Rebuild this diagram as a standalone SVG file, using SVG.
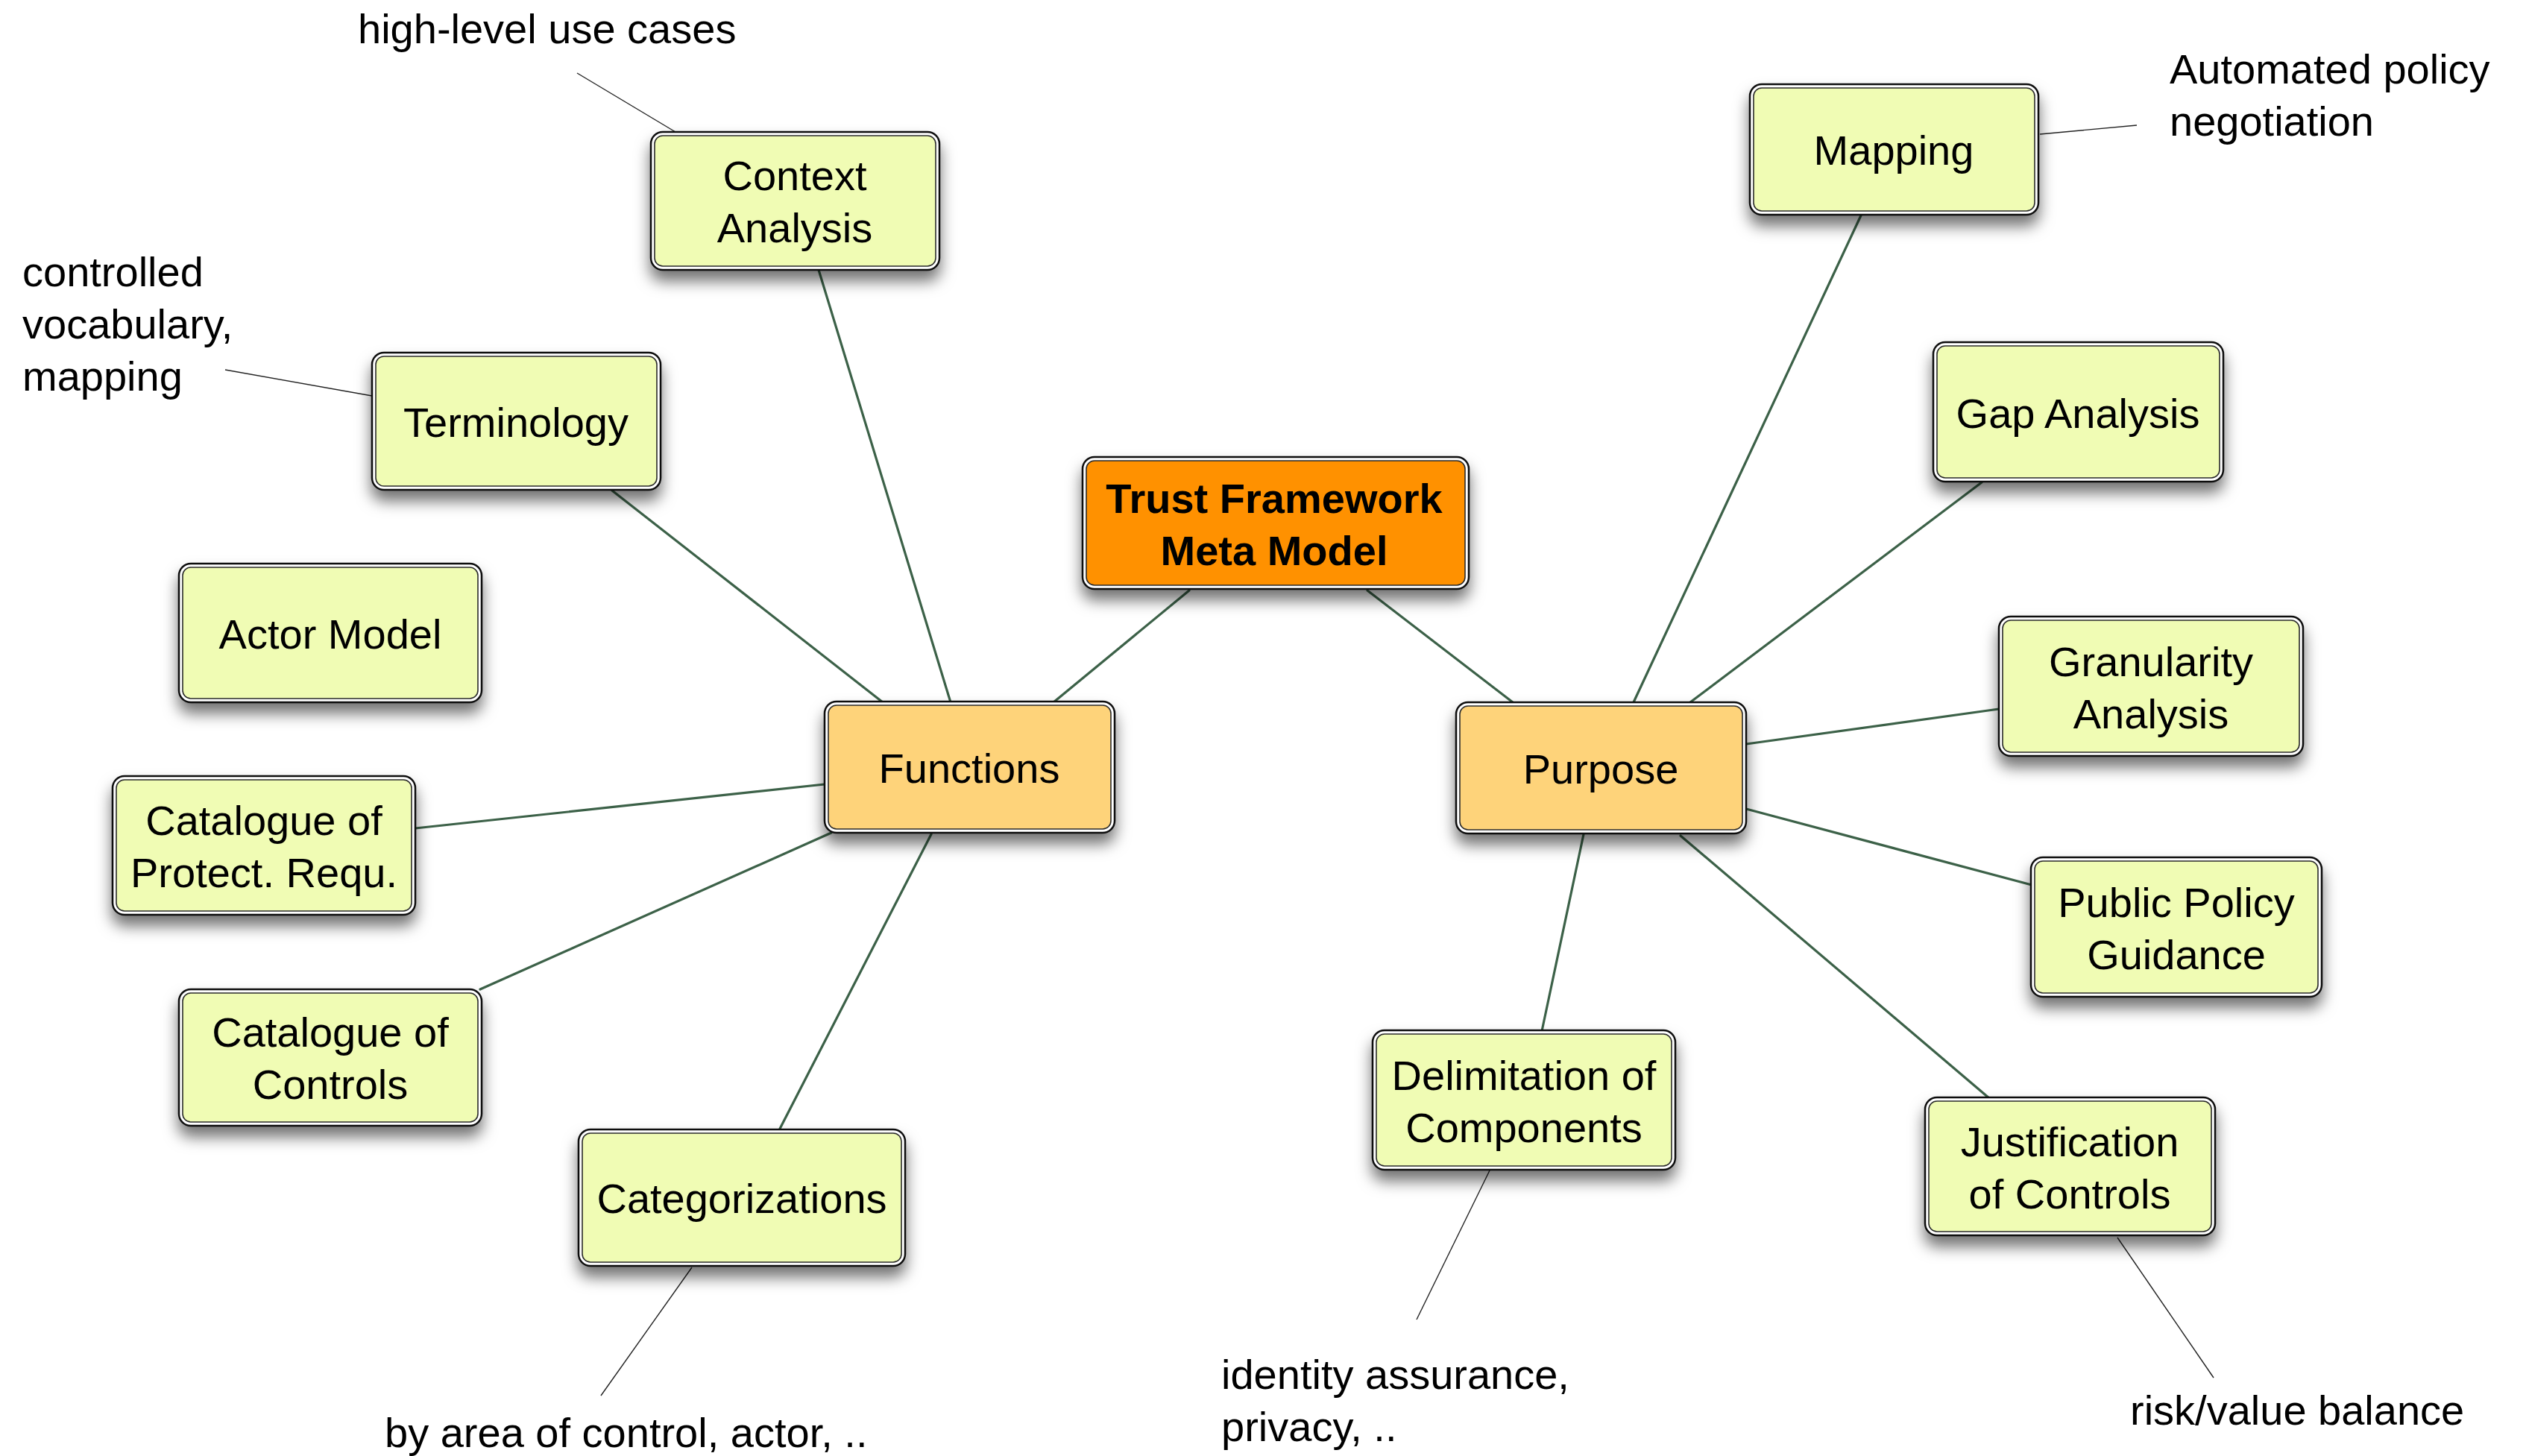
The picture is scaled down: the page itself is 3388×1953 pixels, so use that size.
<svg xmlns="http://www.w3.org/2000/svg" width="3388" height="1953" viewBox="0 0 3388 1953">
<defs>
<filter id="sh" x="-20%" y="-20%" width="140%" height="160%">
<feDropShadow dx="0" dy="14" stdDeviation="10" flood-color="#000" flood-opacity="0.55"/>
</filter>
<style>
.o{fill:#fff;stroke:#111;stroke-width:2.5}
.i{stroke:#2a2a2a;stroke-width:1.6}
.leaf{fill:#F0FCB4}
.mid{fill:#FED37A}
.root{fill:#FF9100}
.t{font-family:"Liberation Sans",Arial,Helvetica,sans-serif;font-size:56px;fill:#000;text-anchor:middle}
.b{font-weight:bold}
.a{font-family:"Liberation Sans",Arial,Helvetica,sans-serif;font-size:56px;fill:#000}
.c{stroke:#3C6148;stroke-width:3.2;fill:none;stroke-linecap:round}
.n{stroke:#222;stroke-width:1.4;fill:none}
</style>
</defs>
<rect width="3388" height="1953" fill="#fff"/>

<g id="connectors">
<line class="c" x1="1595" y1="792" x2="1413" y2="942"/>
<line class="c" x1="1834" y1="792" x2="2029" y2="942"/>
<line class="c" x1="1275" y1="942" x2="1098" y2="362"/>
<line class="c" x1="1184" y1="942" x2="821" y2="658"/>
<line class="c" x1="1106" y1="1052" x2="557" y2="1111"/>
<line class="c" x1="1115" y1="1117" x2="644" y2="1327"/>
<line class="c" x1="1249" y1="1119" x2="1046" y2="1514"/>
<line class="c" x1="2191" y1="942" x2="2496" y2="289"/>
<line class="c" x1="2267" y1="942" x2="2658" y2="647"/>
<line class="c" x1="2342" y1="998" x2="2681" y2="951"/>
<line class="c" x1="2342" y1="1085" x2="2725" y2="1187"/>
<line class="c" x1="2254" y1="1121" x2="2668" y2="1473"/>
<line class="c" x1="2124" y1="1119" x2="2068" y2="1383"/>
<line class="n" x1="774" y1="98" x2="906" y2="177"/>
<line class="n" x1="302" y1="496" x2="499" y2="531"/>
<line class="n" x1="2736" y1="180" x2="2866" y2="168"/>
<line class="n" x1="928" y1="1700" x2="806" y2="1872"/>
<line class="n" x1="1998" y1="1570" x2="1900" y2="1770"/>
<line class="n" x1="2840" y1="1660" x2="2969" y2="1848"/>
</g>

<g id="n-context">
<rect class="o" x="873" y="177" width="387" height="185" rx="16" filter="url(#sh)"/>
<rect class="i leaf" x="878" y="182" width="377" height="175" rx="11"/>
<text class="t" x="1066" y="255">Context</text>
<text class="t" x="1066" y="325">Analysis</text>
</g>

<g id="n-terminology">
<rect class="o" x="499" y="473" width="387" height="184" rx="16" filter="url(#sh)"/>
<rect class="i leaf" x="504" y="478" width="377" height="174" rx="11"/>
<text class="t" x="692" y="586">Terminology</text>
</g>

<g id="n-actor">
<rect class="o" x="240" y="756" width="406" height="186" rx="16" filter="url(#sh)"/>
<rect class="i leaf" x="245" y="761" width="396" height="176" rx="11"/>
<text class="t" x="443" y="870">Actor Model</text>
</g>

<g id="n-catprot">
<rect class="o" x="151" y="1041" width="406" height="186" rx="16" filter="url(#sh)"/>
<rect class="i leaf" x="156" y="1046" width="396" height="176" rx="11"/>
<text class="t" x="354" y="1120">Catalogue of</text>
<text class="t" x="354" y="1190">Protect. Requ.</text>
</g>

<g id="n-catctrl">
<rect class="o" x="240" y="1327" width="406" height="183" rx="16" filter="url(#sh)"/>
<rect class="i leaf" x="245" y="1332" width="396" height="173" rx="11"/>
<text class="t" x="443" y="1404">Catalogue of</text>
<text class="t" x="443" y="1474">Controls</text>
</g>

<g id="n-categorizations">
<rect class="o" x="776" y="1515" width="438" height="183" rx="16" filter="url(#sh)"/>
<rect class="i leaf" x="781" y="1520" width="428" height="173" rx="11"/>
<text class="t" x="995" y="1627">Categorizations</text>
</g>

<g id="n-functions">
<rect class="o" x="1106" y="941" width="389" height="176" rx="16" filter="url(#sh)"/>
<rect class="i mid" x="1111" y="946" width="379" height="166" rx="11"/>
<text class="t" x="1300" y="1050">Functions</text>
</g>

<g id="n-root">
<rect class="o" x="1452" y="613" width="518" height="177" rx="16" filter="url(#sh)"/>
<rect class="i root" x="1457" y="618" width="508" height="167" rx="11"/>
<text class="t b" x="1709" y="688">Trust Framework</text>
<text class="t b" x="1709" y="758">Meta Model</text>
</g>

<g id="n-purpose">
<rect class="o" x="1953" y="942" width="389" height="176" rx="16" filter="url(#sh)"/>
<rect class="i mid" x="1958" y="947" width="379" height="166" rx="11"/>
<text class="t" x="2147" y="1051">Purpose</text>
</g>

<g id="n-mapping">
<rect class="o" x="2347" y="113" width="387" height="175" rx="16" filter="url(#sh)"/>
<rect class="i leaf" x="2352" y="118" width="377" height="165" rx="11"/>
<text class="t" x="2540" y="221">Mapping</text>
</g>

<g id="n-gap">
<rect class="o" x="2593" y="459" width="389" height="187" rx="16" filter="url(#sh)"/>
<rect class="i leaf" x="2598" y="464" width="379" height="177" rx="11"/>
<text class="t" x="2787" y="574">Gap Analysis</text>
</g>

<g id="n-granularity">
<rect class="o" x="2681" y="827" width="408" height="187" rx="16" filter="url(#sh)"/>
<rect class="i leaf" x="2686" y="832" width="398" height="177" rx="11"/>
<text class="t" x="2885" y="907">Granularity</text>
<text class="t" x="2885" y="977">Analysis</text>
</g>

<g id="n-policy">
<rect class="o" x="2724" y="1150" width="390" height="187" rx="16" filter="url(#sh)"/>
<rect class="i leaf" x="2729" y="1155" width="380" height="177" rx="11"/>
<text class="t" x="2919" y="1230">Public Policy</text>
<text class="t" x="2919" y="1300">Guidance</text>
</g>

<g id="n-justification">
<rect class="o" x="2582" y="1472" width="389" height="185" rx="16" filter="url(#sh)"/>
<rect class="i leaf" x="2587" y="1477" width="379" height="175" rx="11"/>
<text class="t" x="2776" y="1551">Justification</text>
<text class="t" x="2776" y="1621">of Controls</text>
</g>

<g id="n-delimitation">
<rect class="o" x="1841" y="1382" width="406" height="187" rx="16" filter="url(#sh)"/>
<rect class="i leaf" x="1846" y="1387" width="396" height="177" rx="11"/>
<text class="t" x="2044" y="1462">Delimitation of</text>
<text class="t" x="2044" y="1532">Components</text>
</g>

<g id="notes">
<text class="a" x="480" y="58">high-level use cases</text>
<text class="a" x="30" y="384">controlled</text>
<text class="a" x="30" y="454">vocabulary,</text>
<text class="a" x="30" y="524">mapping</text>
<text class="a" x="2910" y="112">Automated policy</text>
<text class="a" x="2910" y="182">negotiation</text>
<text class="a" x="516" y="1941">by area of control, actor, ..</text>
<text class="a" x="1638" y="1863">identity assurance,</text>
<text class="a" x="1638" y="1933">privacy, ..</text>
<text class="a" x="2857" y="1911">risk/value balance</text>
</g>
</svg>
